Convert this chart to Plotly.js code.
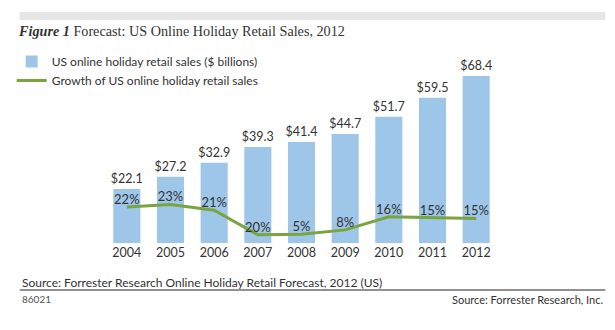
<!DOCTYPE html>
<html>
<head>
<meta charset="utf-8">
<script src="https://cdn.plot.ly/plotly-3.0.1.min.js"></script>
<style>html,body{margin:0;padding:0;background:#fff;}#chart{width:615px;height:330px;}</style>
</head>
<body>
<div id="chart"></div>
<script>
const years = ['2004','2005','2006','2007','2008','2009','2010','2011','2012'];
const sales = [22.1, 27.2, 32.9, 39.3, 41.4, 44.7, 51.7, 59.5, 68.4];
const growthLine = [22, 23.5, 20, 5, 5.3, 8, 16, 15.4, 15];
const growthLabels = ['22%','23%','21%','20%','5%','8%','16%','15%','15%'];

const SANS = 'Lato, "Open Sans", sans-serif';
const TXT = '#333333';

const bars = {
  type: 'bar', x: years, y: sales, name: 'US online holiday retail sales ($ billions)',
  marker: {color: '#9dc6e8'}, width: 0.62,
  text: sales.map(v => '$' + v.toFixed(1)), textposition: 'outside', constraintext: 'none',
  textfont: {family: SANS, size: 12.5, color: TXT}, cliponaxis: false,
  hoverinfo: 'skip'
};
const line = {
  type: 'scatter', mode: 'lines+text', x: years, y: growthLine, yaxis: 'y2',
  name: 'Growth of US online holiday retail sales',
  line: {color: '#7aa43c', width: 3},
  text: growthLabels, textposition: 'top center',
  textfont: {family: SANS, size: 13, color: TXT}, cliponaxis: false,
  hoverinfo: 'skip'
};

const L = 105.2, W = 392.6, T = 60, H = 183, B = 243;
const px = v => (v - L) / W;
const py = v => (B - v) / H;

const layout = {
  width: 615, height: 330,
  margin: {l: 105, r: 117, t: 60, b: 87},
  paper_bgcolor: '#fff', plot_bgcolor: '#fff',
  font: {family: SANS, size: 12, color: TXT},
  title: {text: '<b><i>Figure 1</i></b> Forecast: US Online Holiday Retail Sales, 2012',
    font: {family: '"Liberation Serif", serif', size: 14.2, color: TXT},
    x: 19/615, xanchor: 'left', xref: 'container', y: 1 - 31/330, yanchor: 'middle', yref: 'container'},
  showlegend: true,
  legend: {x: px(12), xanchor: 'left', y: py(47), yanchor: 'top', bgcolor: 'rgba(0,0,0,0)',
    font: {family: SANS, size: 12, color: TXT}, tracegroupgap: 0, itemwidth: 30},
  xaxis: {type: 'category', range: [-0.5, 8.5], showgrid: false, zeroline: false, showline: false,
    ticks: '', tickfont: {family: SANS, size: 12.5, color: TXT}, fixedrange: true},
  yaxis: {range: [0, 75], visible: false, fixedrange: true},
  yaxis2: {range: [0, 111.6], overlaying: 'y', visible: false, fixedrange: true},
  shapes: [
    {type: 'rect', xref: 'paper', yref: 'paper', x0: px(20), x1: px(605), y0: py(20), y1: py(12),
      fillcolor: '#e6e6e6', line: {width: 0}, layer: 'below'},
    {type: 'line', xref: 'paper', yref: 'paper', x0: px(20), x1: px(605), y0: py(290), y1: py(290),
      line: {color: '#222', width: 1}}
  ],
  annotations: [
    {xref: 'paper', yref: 'paper', x: px(20), y: py(282), xanchor: 'left', yanchor: 'middle', showarrow: false,
      text: 'Source: Forrester Research Online Holiday Retail Forecast, 2012 (US)', font: {family: SANS, size: 12, color: TXT}},
    {xref: 'paper', yref: 'paper', x: px(20), y: py(299), xanchor: 'left', yanchor: 'middle', showarrow: false,
      text: '86021', font: {family: SANS, size: 10, color: '#555'}},
    {xref: 'paper', yref: 'paper', x: px(605), y: py(299), xanchor: 'right', yanchor: 'middle', showarrow: false,
      text: 'Source: Forrester Research, Inc.', font: {family: SANS, size: 11, color: TXT}}
  ]
};

Plotly.newPlot('chart', [bars, line], layout, {staticPlot: true, displayModeBar: false});
</script>
</body>
</html>
